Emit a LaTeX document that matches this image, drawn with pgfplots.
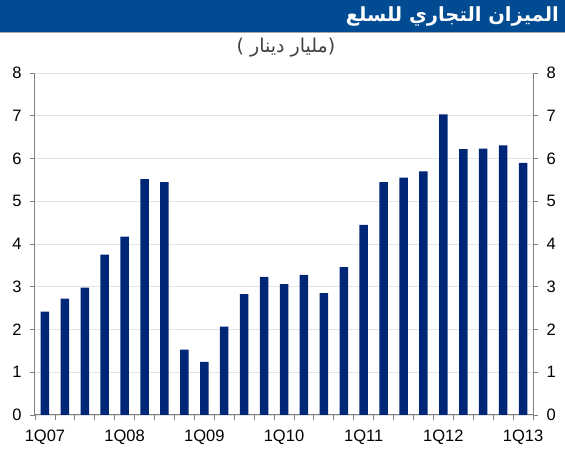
\documentclass[border=0pt]{standalone}
\usepackage{pgfplots}
\usepackage{pgfplotstable}
\pgfplotsset{compat=1.18}
\usepackage{fontspec}
\setmainfont{Liberation Sans}
\newfontfamily\arabicfont[Script=Arabic]{DejaVu Sans}
\TeXXeTstate=1
\definecolor{barblue}{RGB}{0,38,120}
\definecolor{titleblue}{RGB}{0,75,145}
\definecolor{axgray}{RGB}{128,128,128}
\definecolor{gridgray}{RGB}{228,228,228}
\pgfplotstableread{
x y
0 2.42
1 2.72
2 2.98
3 3.75
4 4.17
5 5.52
6 5.45
7 1.53
8 1.24
9 2.07
10 2.83
11 3.23
12 3.06
13 3.28
14 2.85
15 3.46
16 4.45
17 5.45
18 5.55
19 5.70
20 7.03
21 6.22
22 6.23
23 6.31
24 5.90
}\datatable
\pgfplotsset{
  common/.style={
    scale only axis, width=498pt, height=342pt,
    at={(35pt,35pt)}, anchor=south west,
    xmin=-0.5, xmax=24.5, ymin=0, ymax=8,
    ytick={0,1,...,8},
    tick align=outside,
    major tick length=5pt, minor tick length=5pt,
    tick style={axgray, line width=0.8pt},
    axis line style={axgray, line width=1pt},
    /pgf/number format/assume math mode=true,
    ticklabel style={font=\fontsize{16.5}{19}\selectfont},
  }
}
\begin{document}
\begin{tikzpicture}[x=1pt,y=1pt]
\path[use as bounding box] (0,0) rectangle (565,450);
\fill[titleblue] (0,418) rectangle (565,450);
\draw[black!35, line width=0.8pt] (0,418) -- (565,418);
\node[anchor=east, text=white, font=\fontsize{19.5}{24}\selectfont\arabicfont\bfseries, inner sep=0pt] at (559,434) {\beginR الميزان التجاري للسلع\endR};
\node[text=black!75, font=\fontsize{19}{22}\selectfont\arabicfont, inner sep=0pt] at (286,402) {\beginR(مليار دينار )\endR};
\begin{axis}[common,
  axis x line*=bottom, axis y line*=left,
  ymajorgrids, grid style={gridgray, line width=0.8pt},
  xtick={0,4,...,24},
  xticklabels={1Q07,1Q08,1Q09,1Q10,1Q11,1Q12,1Q13},
  major x tick style={draw=none},
  minor xtick={-0.5,0.5,...,24.5},
  xticklabel style={yshift=-6pt},
  yticklabel style={xshift=-5pt},
]
\addplot[ybar, bar width=8.5pt, fill=barblue, draw=none] table[x=x,y=y] {\datatable};
\end{axis}
\begin{axis}[common,
  axis y line*=right, axis x line=none,
  yticklabel style={xshift=5pt},
]
\end{axis}
\end{tikzpicture}
\end{document}
